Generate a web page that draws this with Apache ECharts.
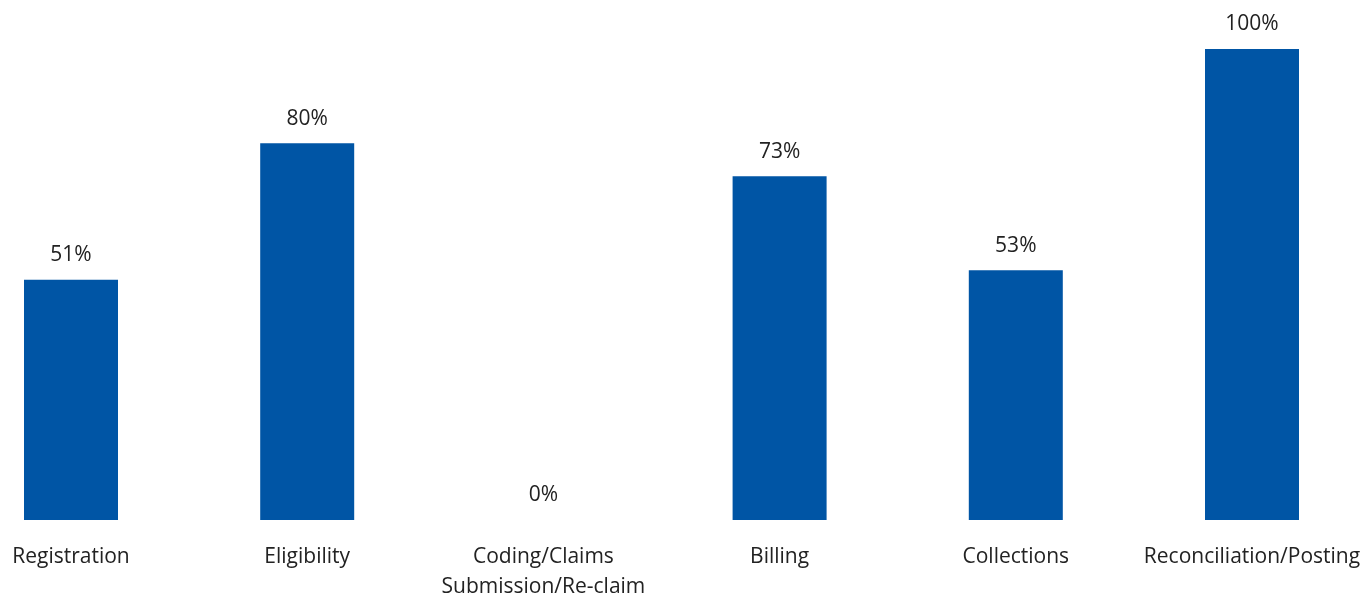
<!DOCTYPE html>
<html>
<head>
<meta charset="utf-8">
<script src="https://cdn.jsdelivr.net/npm/echarts@6/dist/echarts.min.js"></script>
<style>html,body{margin:0;padding:0;background:#fff}#c{width:1366px;height:600px}</style>
</head>
<body>
<div id="c"></div>
<script>
const categories = ["Registration", "Eligibility", "Coding/Claims\nSubmission/Re-claim", "Billing", "Collections", "Reconciliation/Posting"];
const values = [51, 80, 0, 73, 53, 100];

const chart = echarts.init(document.getElementById('c'), null, {renderer: 'canvas'});
chart.setOption({
  animation: false,
  grid: {left: 71, right: 114, top: 49, bottom: 80, containLabel: false, outerBoundsMode: 'none'},
  xAxis: {
    type: 'category',
    data: categories,
    boundaryGap: false,
    axisLine: {show: false},
    axisTick: {show: false},
    splitLine: {show: false},
    axisLabel: {
      interval: 0,
      margin: 22,
      fontFamily: 'Open Sans',
      fontSize: 21,
      lineHeight: 30,
      color: '#222'
    }
  },
  yAxis: {
    type: 'value', min: 0, max: 100, show: false, splitLine: {show: false}
  },
  series: [{
    type: 'bar',
    data: values,
    barWidth: 94,
    clip: false,
    itemStyle: {color: '#0055A5'},
    label: {
      show: true,
      position: 'top',
      distance: 14,
      formatter: '{c}%',
      fontFamily: 'Open Sans',
      fontSize: 21,
      color: '#222'
    }
  }]
});
</script>
</body>
</html>
